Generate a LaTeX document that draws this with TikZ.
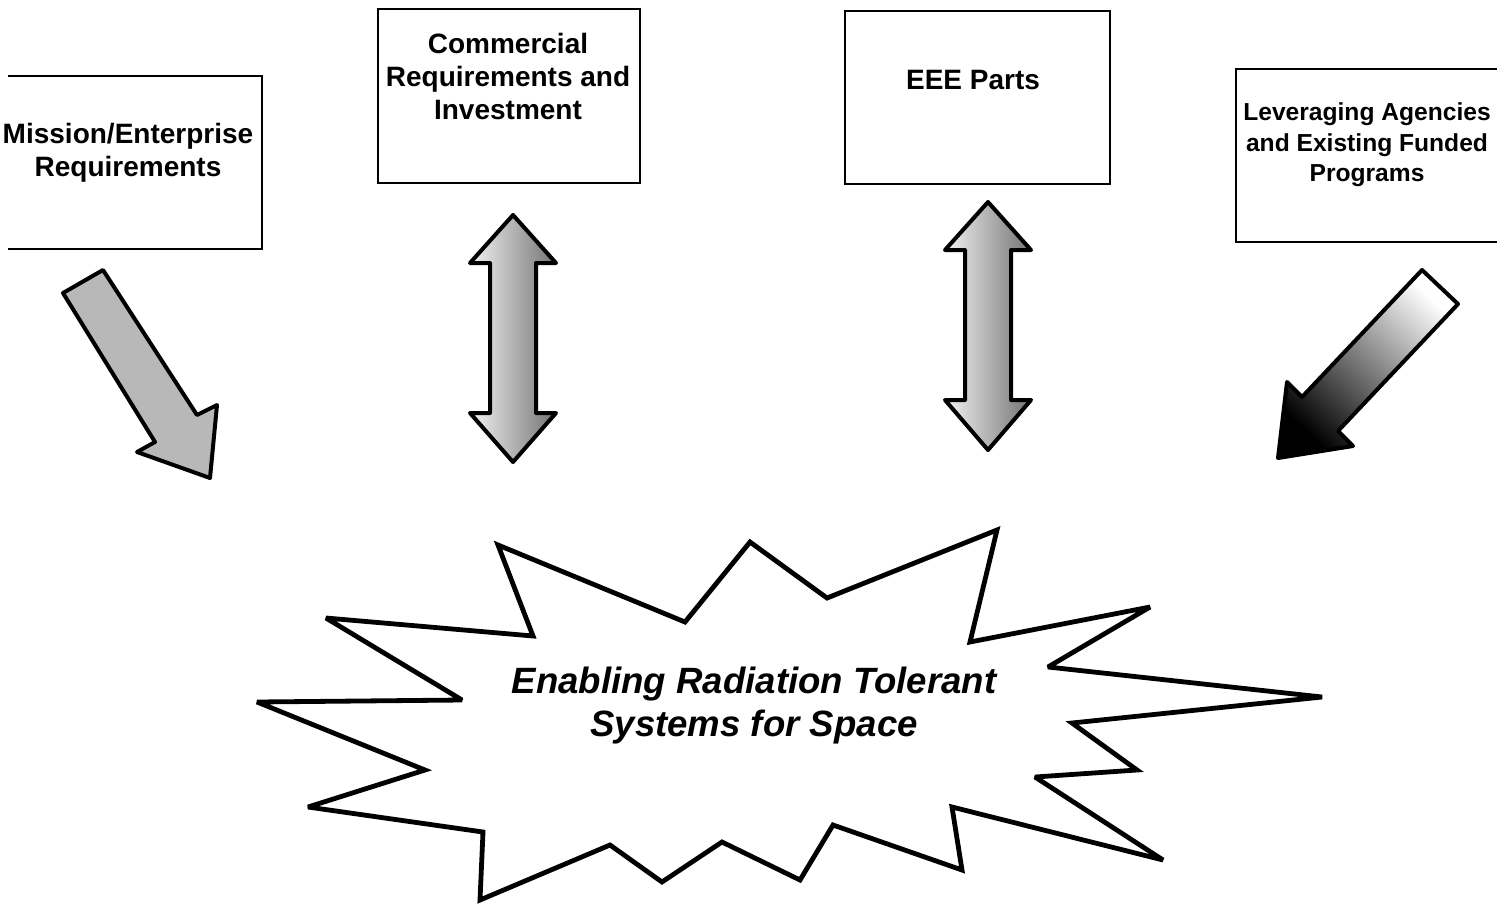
\documentclass[tikz,border=0pt]{standalone}
\usepackage{fontspec}
\setmainfont{Liberation Sans}
\begin{document}
\begin{tikzpicture}[x=0.5pt,y=-0.5pt,
  boxline/.style={line width=1.4pt, line join=miter},
  boxtext/.style={font=\fontsize{14}{16.5}\selectfont\bfseries, align=center, inner sep=0pt},
  smalltext/.style={font=\fontsize{12.3}{15.3}\selectfont\bfseries, align=center, inner sep=0pt},
  burst/.style={line width=2.4pt, line join=miter, miter limit=3, fill=white},
  bursttext/.style={font=\fontsize{18.3}{21.5}\selectfont\bfseries\itshape, align=center, inner sep=0pt},
  fatarrow/.style={line width=2pt, line join=round, draw=black},
  ]
\useasboundingbox (0,0) rectangle (1508,905);

% boxes
\draw[boxline] (8,76) -- (262,76) -- (262,249) -- (8,249);
\node[boxtext] (mission) at (128,153) {Mission/Enterprise\\Requirements};

\draw[boxline] (378,9) rectangle (640,183);
\node[boxtext] (commercial) at (508,76) {Commercial\\Requirements and\\Investment};

\draw[boxline] (845,11) rectangle (1110,184);
\node[boxtext] (eee) at (973,80) {EEE Parts};

\draw[boxline] (1497,69) -- (1236,69) -- (1236,242) -- (1497,242);
\node[smalltext] (leverage) at (1367,145) {Leveraging Agencies\\and Existing Funded\\Programs};

% arrows
\filldraw[fatarrow, fill=black!28] (63,293) -- (103,270) -- (197,415) -- (217,405) -- (210,478) -- (137,452) -- (155,442) -- cycle;

\shadedraw[fatarrow, left color=black!5, right color=black!55]
  (513,215) -- (556,263) -- (536,263) -- (536,413) -- (556,413) -- (513,462)
  -- (470,413) -- (490,413) -- (490,263) -- (470,263) -- cycle;

\shadedraw[fatarrow, left color=black!5, right color=black!55]
  (988,202) -- (1031,250) -- (1011,250) -- (1011,400) -- (1031,400) -- (988,450)
  -- (945,400) -- (965,400) -- (965,250) -- (945,250) -- cycle;

\shadedraw[fatarrow, top color=white, bottom color=black, shading angle=-43.5]
  (1422,270) -- (1458,304) -- (1338,431) -- (1353,446) -- (1278,458)
  -- (1287,382) -- (1302,397) -- cycle;

% starburst
\draw[burst] (1322,697) -- (1072,723) -- (1137,770) -- (1035,777) -- (1163,860)
  -- (952,807) -- (962,870) -- (833,825) -- (800,880) -- (722,842) -- (662,882)
  -- (610,845) -- (480,900) -- (483,832) -- (308,807) -- (425,770) -- (257,702)
  -- (462,700) -- (326,618) -- (533,636) -- (498,545) -- (685,622) -- (750,542)
  -- (827,598) -- (997,530) -- (970,642) -- (1150,607) -- (1048,667) -- cycle;
\node[bursttext] (goal) at (754,706) {Enabling Radiation Tolerant\\Systems for Space};
\end{tikzpicture}
\end{document}
